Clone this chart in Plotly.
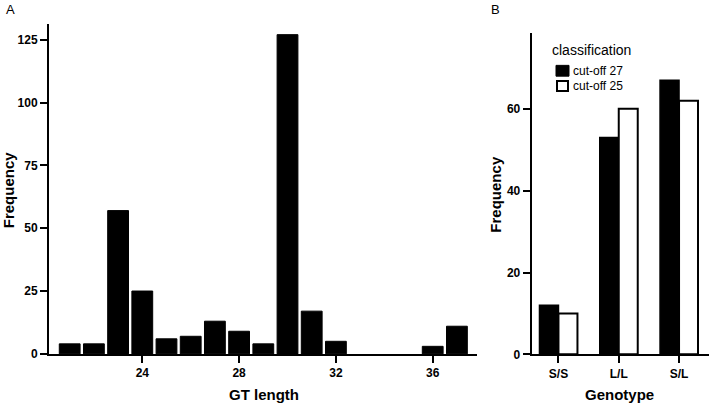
import plotly.graph_objects as go

# Panel A: GT length histogram
gt_length = [21, 22, 23, 24, 25, 26, 27, 28, 29, 30, 31, 32, 36, 37]
gt_freq = [4, 4, 57, 25, 6, 7, 13, 9, 4, 127, 17, 5, 3, 11]
gt_ticks = [24, 28, 32, 36]
freq_ticks_a = [0, 25, 50, 75, 100, 125]

# Panel B: genotype by classification
genotypes = ["S/S", "L/L", "S/L"]
series_names = ["cut-off 27", "cut-off 25"]
cutoff27 = [12, 53, 67]
cutoff25 = [10, 60, 62]
freq_ticks_b = [0, 20, 40, 60]

FONT = "Liberation Sans, Arial, sans-serif"
W, H = 709, 412


def px(x):
    return x / W


def py(y):
    return 1 - y / H


fig = go.Figure()

fig.add_trace(go.Bar(
    x=gt_length, y=gt_freq, xaxis="x", yaxis="y",
    marker=dict(color="black", line=dict(color="black", width=1)),
    width=0.86, showlegend=False,
))

fig.add_trace(go.Bar(
    x=genotypes, y=cutoff27, xaxis="x2", yaxis="y2", name=series_names[0],
    marker=dict(color="black", line=dict(color="black", width=1.5)), showlegend=False,
))
fig.add_trace(go.Bar(
    x=genotypes, y=cutoff25, xaxis="x2", yaxis="y2", name=series_names[1],
    marker=dict(color="white", line=dict(color="black", width=2)), showlegend=False,
))

tickfont = dict(family=FONT, size=12, color="black", weight="bold")
axis_common = dict(showline=True, linecolor="black", linewidth=2, ticks="outside",
                   ticklen=7, tickwidth=1.5, tickcolor="black", showgrid=False,
                   zeroline=False, tickfont=tickfont)

title_font = dict(family=FONT, size=15, weight="bold", color="black")

annotations = [
    dict(text="A", x=px(4), y=py(0), xanchor="left", yanchor="top",
         font=dict(family=FONT, size=13)),
    dict(text="B", x=px(489), y=py(0), xanchor="left", yanchor="top",
         font=dict(family=FONT, size=13)),
    dict(text="Frequency", x=px(8.5), y=py(193), xanchor="center", yanchor="middle",
         textangle=-90, font=title_font),
    dict(text="Frequency", x=px(496), y=py(198), xanchor="center", yanchor="middle",
         textangle=-90, font=title_font),
    dict(text="GT length", x=px(264), y=py(401), xanchor="center", yanchor="middle",
         font=title_font),
    dict(text="Genotype", x=px(619), y=py(401), xanchor="center", yanchor="middle",
         font=title_font),
    # legend
    dict(text="classification", x=px(550), y=py(51), xanchor="left", yanchor="middle",
         font=dict(family=FONT, size=14)),
    dict(text=series_names[0], x=px(571), y=py(72), xanchor="left", yanchor="middle",
         font=dict(family=FONT, size=12)),
    dict(text=series_names[1], x=px(571), y=py(87.5), xanchor="left", yanchor="middle",
         font=dict(family=FONT, size=12)),
]
for a in annotations:
    a.update(xref="paper", yref="paper", showarrow=False)

shapes = [
    dict(type="rect", xref="paper", yref="paper", x0=px(556), x1=px(569),
         y0=py(66.5), y1=py(77.5), fillcolor="black", line=dict(color="black", width=1)),
    dict(type="rect", xref="paper", yref="paper", x0=px(557), x1=px(568),
         y0=py(82.5), y1=py(92.5), fillcolor="white", line=dict(color="black", width=2)),
]

fig.update_layout(
    width=W, height=H,
    margin=dict(l=0, r=0, t=0, b=0),
    paper_bgcolor="white", plot_bgcolor="white",
    barmode="group", bargap=0.37, bargroupgap=0,
    font=dict(family=FONT, color="black"),
    showlegend=False,
    xaxis=dict(domain=[px(49), px(477)], range=[20.145, 37.83], tickvals=gt_ticks,
               anchor="y", **axis_common),
    yaxis=dict(domain=[py(360), py(24)], range=[0, 131.4], tickvals=freq_ticks_a,
               anchor="x", **axis_common),
    xaxis2=dict(domain=[px(531.7), 1.0], range=[-0.444, 2.497], type="category",
                anchor="y2", **axis_common),
    yaxis2=dict(domain=[py(360.5), py(33.3)], range=[0, 78.6], tickvals=freq_ticks_b,
                anchor="x2", **axis_common),
    annotations=annotations,
    shapes=shapes,
)

fig.write_html(
    "out.html",
    config={"displayModeBar": False},
    post_script="document.body.style.margin='0';document.body.style.overflow='hidden';",
)
